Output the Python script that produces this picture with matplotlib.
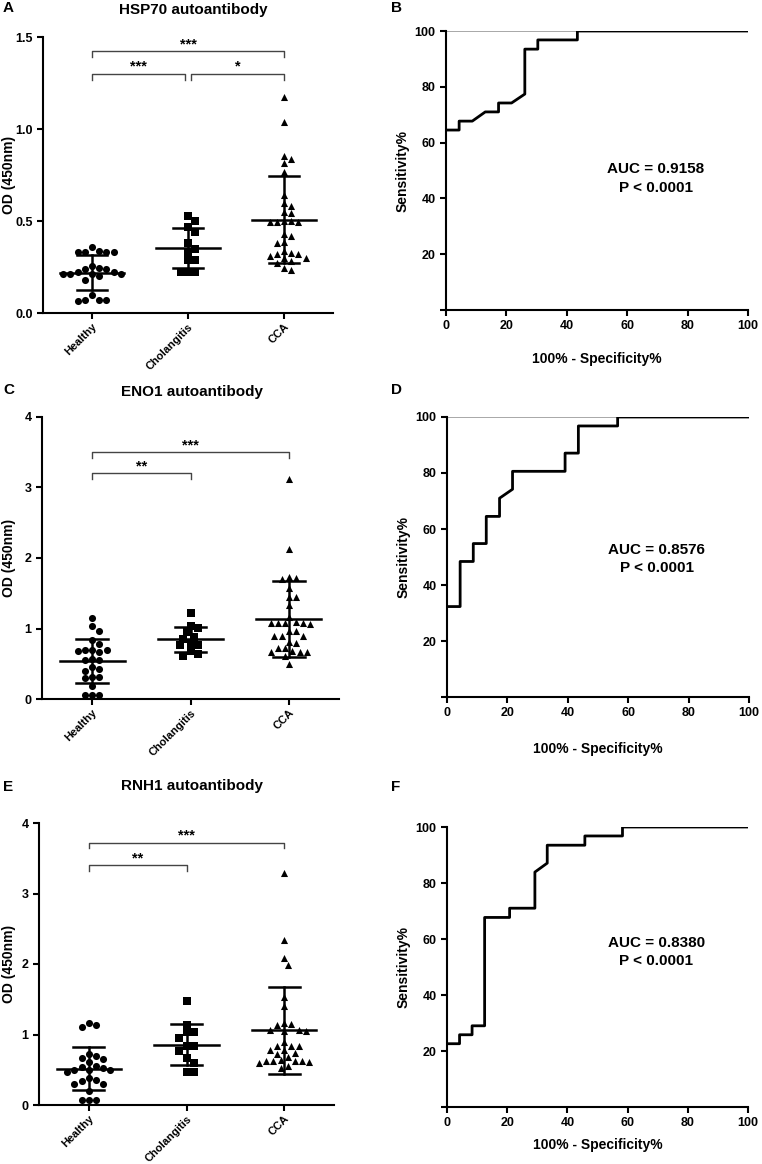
import numpy as np
import matplotlib
matplotlib.use('Agg')
import matplotlib.pyplot as plt

plt.rcParams['font.family'] = ['Liberation Sans', 'DejaVu Sans']
plt.rcParams['font.weight'] = 'bold'
plt.rcParams['axes.labelweight'] = 'bold'

groups = ['Healthy', 'Cholangitis', 'CCA']

# HSP70 autoantibody OD (450nm)
hsp70_healthy = [0.36, 0.33, 0.33, 0.33, 0.33, 0.335, 0.245, 0.24, 0.24, 0.255, 0.225, 0.21,
                 0.21, 0.20, 0.18, 0.21, 0.21, 0.225, 0.098, 0.07, 0.065, 0.07, 0.07]
hsp70_chol = [0.527, 0.50, 0.469, 0.442, 0.382, 0.35, 0.328, 0.288, 0.288, 0.225, 0.225, 0.225]
hsp70_cca = [1.172, 1.036, 0.853, 0.837, 0.813, 0.768, 0.641, 0.596, 0.581, 0.551, 0.542, 0.50,
             0.496, 0.496, 0.496, 0.50, 0.429, 0.418, 0.388, 0.382, 0.339, 0.31, 0.30, 0.32,
             0.30, 0.32, 0.325, 0.27, 0.28, 0.234, 0.245]

# ENO1 autoantibody
eno1_healthy = [1.145, 1.035, 0.965, 0.837, 0.776, 0.70, 0.685, 0.671, 0.70, 0.70, 0.553, 0.567,
                0.553, 0.397, 0.459, 0.421, 0.308, 0.294, 0.308, 0.189, 0.057, 0.057, 0.057]
eno1_chol = [1.217, 1.038, 1.005, 0.948, 0.849, 0.877, 0.778, 0.769, 0.76, 0.675, 0.604, 0.642]
eno1_cca = [3.12, 2.13, 1.73, 1.70, 1.72, 1.57, 1.45, 1.44, 1.33, 1.17, 1.09, 1.08, 1.08, 1.08,
            1.08, 1.07, 0.97, 0.96, 0.90, 0.89, 0.90, 0.80, 0.81, 0.72, 0.67, 0.66, 0.66, 0.68,
            0.72, 0.61, 0.49]

# RNH1 autoantibody
rnh1_healthy = [1.17, 1.14, 1.10, 0.72, 0.70, 0.66, 0.65, 0.61, 0.55, 0.54, 0.52, 0.50, 0.50,
                0.49, 0.47, 0.39, 0.36, 0.34, 0.30, 0.30, 0.20, 0.07, 0.07, 0.07]
rnh1_chol = [1.48, 1.14, 1.03, 1.03, 0.95, 0.83, 0.84, 0.77, 0.60, 0.66, 0.47, 0.47]
rnh1_cca = [3.29, 2.34, 2.08, 1.98, 1.53, 1.41, 1.17, 1.14, 1.15, 1.07, 1.05, 1.05, 1.07, 0.89,
            0.84, 0.83, 0.84, 0.78, 0.74, 0.78, 0.73, 0.68, 0.64, 0.62, 0.62, 0.61, 0.62, 0.63,
            0.56, 0.52, 0.60]

# ROC curves (100% - specificity%, sensitivity%)
roc_hsp70_x = [0, 4.35, 4.35, 8.7, 13.0, 17.4, 17.4, 21.7, 26.1, 26.1, 30.4, 30.4, 43.5, 43.5, 100]
roc_hsp70_y = [64.5, 64.5, 67.7, 67.7, 71.0, 71.0, 74.2, 74.2, 77.4, 93.5, 93.5, 96.8, 96.8, 100, 100]
roc_eno1_x = [0, 4.35, 4.35, 8.7, 8.7, 13.0, 13.0, 17.4, 17.4, 21.7, 21.7, 39.1, 39.1, 43.5, 43.5,
              56.5, 56.5, 100]
roc_eno1_y = [32.3, 32.3, 48.4, 48.4, 54.8, 54.8, 64.5, 64.5, 71.0, 74.2, 80.6, 80.6, 87.1, 87.1,
              96.8, 96.8, 100, 100]
roc_rnh1_x = [0, 4.17, 4.17, 8.33, 8.33, 12.5, 12.5, 20.8, 20.8, 29.2, 29.2, 33.3, 33.3, 45.8,
              45.8, 58.3, 58.3, 100]
roc_rnh1_y = [22.6, 22.6, 25.8, 25.8, 29.0, 29.0, 67.7, 67.7, 71.0, 71.0, 83.9, 87.1, 93.5, 93.5,
              96.8, 96.8, 100, 100]

auc_values = ['0.9158', '0.8576', '0.8380']

W, H = 762, 1164
fig = plt.figure(figsize=(W / 100, H / 100), dpi=100)


def px_axes(left, right, top, bottom):
    return fig.add_axes([left / W, (H - bottom) / H, (right - left) / W, (bottom - top) / H])


def swarm_x(ax, xc, vals, d_px):
    """Beeswarm-like horizontal offsets so markers do not overlap."""
    order = np.argsort(vals)[::-1]
    placed = []
    xs = np.zeros(len(vals))
    px0, _ = ax.transData.transform((xc, 0))
    px1, _ = ax.transData.transform((xc + 1, 0))
    unit = px1 - px0
    cands = [0.0]
    for k in range(1, 40):
        cands += [k * 0.5 * d_px, -k * 0.5 * d_px]
    for i in order:
        _, py = ax.transData.transform((xc, vals[i]))
        for c in cands:
            ok = all((c - qx) ** 2 + (py - qy) ** 2 >= (0.98 * d_px) ** 2 for qx, qy in placed)
            if ok:
                placed.append((c, py))
                xs[i] = xc + c / unit
                break
    return xs


def style_axes(ax):
    for s in ['top', 'right']:
        ax.spines[s].set_visible(False)
    for s in ['left', 'bottom']:
        ax.spines[s].set_linewidth(1.5)
    ax.tick_params(width=1.5, length=4)


def scatter_panel(ax, data, ylim, yticks, yticklabels, brackets, label_x):
    ax.set_xlim(-0.51, 2.51)
    ax.set_ylim(*ylim)
    markers = ['o', 's', '^']
    for i, vals in enumerate(data):
        vals = np.array(vals)
        xs = swarm_x(ax, i, vals, 7.2)
        ax.scatter(xs, vals, marker=markers[i], s=26, color='black', linewidths=0, zorder=2)
        m, sd = vals.mean(), vals.std(ddof=1)
        ax.plot([i - 0.33, i + 0.33], [m, m], color='black', lw=1.8, zorder=3)
        ax.plot([i, i], [m - sd, m + sd], color='black', lw=1.8, zorder=3)
        for yy in (m - sd, m + sd):
            ax.plot([i - 0.16, i + 0.16], [yy, yy], color='black', lw=1.8, zorder=3)
    for x1, x2, y, h, label in brackets:
        ax.plot([x1, x1, x2, x2], [y - h, y, y, y - h], color='#444444', lw=1.0)
        ax.text((x1 + x2) / 2, y, label, ha='center', va='bottom', fontsize=10.5)
    ax.set_xticks([0, 1, 2])
    ax.set_xticklabels(groups, rotation=45, ha='right', rotation_mode='anchor', fontsize=8)
    ax.set_yticks(yticks)
    ax.set_yticklabels(yticklabels, fontsize=9)
    ax.set_ylabel('OD (450nm)', fontsize=10)
    ax.yaxis.set_label_coords(label_x, 0.5)
    style_axes(ax)
    ax.tick_params(axis='x', pad=2)


def roc_panel(ax, x, y, auc, auc_y, label_y, gray_top):
    ax.set_xlim(0, 100)
    ax.set_ylim(0, 100)
    if gray_top:
        ax.axhline(100, color='#999999', lw=1.2)
    ax.plot(x, y, color='black', lw=2)
    ax.text(69.5, auc_y, 'AUC = ' + auc, ha='center', va='center', fontsize=11)
    ax.text(69.5, auc_y - 6.6, 'P < 0.0001', ha='center', va='center', fontsize=11)
    ax.set_xticks(range(0, 101, 20))
    ax.set_xticklabels([str(v) for v in range(0, 101, 20)], fontsize=9)
    ax.set_yticks(range(0, 101, 20))
    ax.set_yticklabels([''] + [str(v) for v in range(20, 101, 20)], fontsize=9)
    ax.set_ylabel('Sensitivity%', fontsize=10)
    ax.set_xlabel('100% - Specificity%', fontsize=10)
    ax.yaxis.set_label_coords(-0.12, 0.5)
    ax.xaxis.set_label_coords(0.5, label_y)
    style_axes(ax)


# A
axA = px_axes(43, 333, 37, 313)
scatter_panel(axA, [hsp70_healthy, hsp70_chol, hsp70_cca], (0, 1.5), [0, 0.5, 1.0, 1.5],
              ['0.0', '0.5', '1.0', '1.5'],
              [(0, 2, 1.423, 0.032, '***'), (0, 0.97, 1.30, 0.032, '***'), (1.03, 2, 1.30, 0.032, '*')],
              -0.093)

# C
axC = px_axes(42, 339, 417, 699)
scatter_panel(axC, [eno1_healthy, eno1_chol, eno1_cca], (0, 4), [0, 1, 2, 3, 4],
              ['0', '1', '2', '3', '4'],
              [(0, 2, 3.50, 0.08, '***'), (0, 1, 3.20, 0.08, '**')], -0.088)

# E
axE = px_axes(39, 334, 823, 1105)
scatter_panel(axE, [rnh1_healthy, rnh1_chol, rnh1_cca], (0, 4), [0, 1, 2, 3, 4],
              ['0', '1', '2', '3', '4'],
              [(0, 2, 3.72, 0.08, '***'), (0, 1, 3.40, 0.08, '**')], -0.078)

# B, D, F
axB = px_axes(446, 748, 31, 310)
roc_panel(axB, roc_hsp70_x, roc_hsp70_y, auc_values[0], 50.5, -0.15, True)

axD = px_axes(447, 749, 417, 697)
roc_panel(axD, roc_eno1_x, roc_eno1_y, auc_values[1], 52.5, -0.16, True)

axF = px_axes(447, 748, 827, 1107)
roc_panel(axF, roc_rnh1_x, roc_rnh1_y, auc_values[2], 58.6, -0.11, False)

# titles and panel letters
for txt, x, y in [('HSP70 autoantibody', 193, 10), ('ENO1 autoantibody', 192, 392),
                  ('RNH1 autoantibody', 192, 786)]:
    fig.text(x / W, 1 - y / H, txt, ha='center', va='center', fontsize=11)
for txt, x, y in [('A', 3, 8), ('B', 391, 8), ('C', 3, 390), ('D', 391, 390),
                  ('E', 3, 787), ('F', 391, 787)]:
    fig.text(x / W, 1 - y / H, txt, ha='left', va='center', fontsize=11)

fig.savefig('out.png', dpi=100)
